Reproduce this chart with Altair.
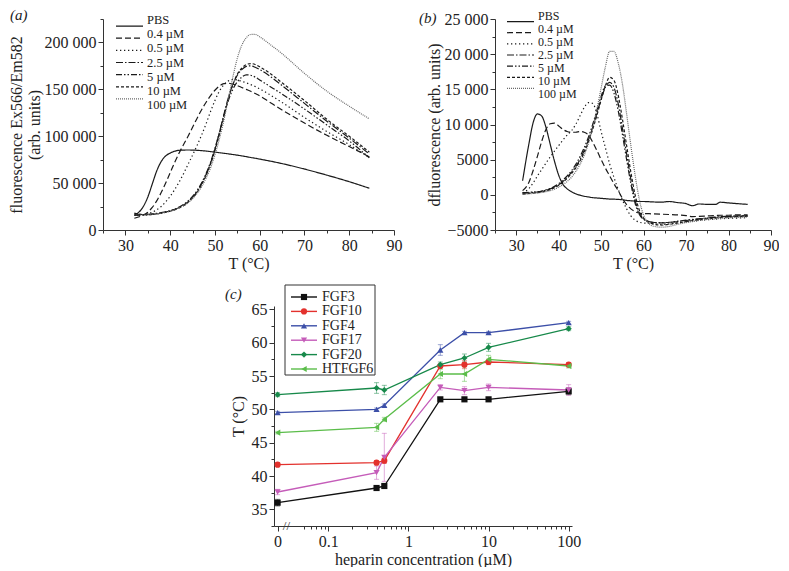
import altair as alt
import pandas as pd

SERIF = "Liberation Serif"
INK = "#222222"

# ---------------- panels (a) and (b): thermal shift curves ----------------
series_names = ["PBS", "0.4 µM", "0.5 µM", "2.5 µM", "5 µM", "10 µM", "100 µM"]

temp_a = [32, 34, 35, 36, 37, 38, 39, 40, 41, 42, 44, 46, 47, 48, 49, 50, 51, 52, 53,
          54, 55, 56, 57, 58, 59, 60, 62, 65, 70, 75, 80, 84.5]
fl_pbs = [15500, 25000, 35000, 49000, 63000, 73000, 79000, 82000, 84000, 85000, 85300, 85000,
          84600, 84200, 83600, 83000, 82400, 81800, 81200, 80500, 79800, 79000, 78200, 77300,
          76500, 75600, 73800, 70800, 65000, 58500, 51500, 44500]
fl_04 = [12500, 16000, 19000, 24000, 31000, 40000, 50000, 61000, 72000, 82000, 100000, 119000,
         128000, 136000, 143000, 149000, 153500, 156000, 156500, 155500, 154000, 152000, 150000,
         148000, 145500, 143000, 137000, 128000, 114000, 101000, 89000, 78000]
fl_05 = [16000, 16500, 17500, 19000, 21500, 25000, 30000, 36000, 43000, 51000, 70000, 90000,
         101000, 113000, 126000, 138000, 148000, 155000, 159000, 160500, 160000, 158500, 157000,
         155000, 153000, 150500, 145000, 136000, 120000, 105000, 91000, 77000]
fl_25 = [17000, 16500, 16800, 17200, 17800, 18500, 19500, 20500, 22000, 24000, 30000, 41000,
         49000, 59000, 71000, 86000, 104000, 123000, 141000, 155000, 165000, 171000, 174500,
         175000, 173500, 171000, 165000, 154000, 135000, 116000, 98000, 81000]
fl_5 = [15500, 15800, 16000, 16500, 17000, 18000, 19000, 20500, 22000, 24500, 31000, 42000,
        50000, 60000, 72000, 87000, 104000, 122000, 138000, 150000, 158000, 163000, 165500,
        165000, 163000, 160000, 154000, 145000, 129000, 112000, 95000, 77000]
fl_10 = [18000, 16500, 16500, 16800, 17300, 18000, 19000, 20000, 21500, 23500, 29500, 40000,
         48000, 58000, 70000, 85000, 102000, 121000, 140000, 155000, 166000, 172500, 176500,
         177500, 176500, 174000, 168000, 157000, 138000, 118000, 100000, 83000]
fl_100 = [16000, 16000, 16200, 16500, 17000, 17800, 18800, 20000, 21500, 23500, 29000, 39000,
          46000, 55000, 66000, 80000, 97000, 117000, 140000, 163000, 183000, 197000, 205000,
          208500, 208500, 206000, 199000, 188000, 167000, 148000, 132000, 118500]

temp_b = [31.5, 33, 34, 35, 36, 37, 38, 39, 40, 41, 42, 43, 44, 45, 46, 47, 48, 49, 50, 51,
          52, 53, 54, 55, 56, 57, 58, 59, 60, 62, 64, 66, 68, 70, 71.5, 73, 75, 77, 78, 80,
          82, 84.5]
df_pbs = [2000, 7300, 10300, 11500, 11200, 9600, 7200, 4800, 2800, 1500, 850, 450, 150, -50,
          -200, -300, -400, -450, -500, -550, -600, -620, -650, -700, -800, -850, -900, -950,
          -950, -1000, -1050, -950, -1100, -1250, -1550, -1300, -1350, -1350, -1050, -1150,
          -1250, -1350]
df_04 = [600, 1800, 3500, 5500, 7600, 9300, 10100, 10200, 9800, 9300, 9000, 8900, 8900, 9000,
         8900, 8500, 7500, 6300, 5000, 3800, 2700, 1600, 600, -500, -1400, -2000, -2400, -2600,
         -2650, -2700, -2750, -2800, -2850, -2950, -3100, -3050, -3000, -2950, -2900, -2900,
         -2850, -2850]
df_05 = [300, 900, 1700, 2700, 3600, 4500, 5400, 6200, 7000, 7800, 8500, 9100, 10000, 11200,
         12400, 13100, 13000, 11500, 9000, 6700, 4400, 2500, 800, -700, -2000, -3000, -3600,
         -3900, -4000, -4100, -4200, -4150, -4000, -3850, -3750, -3650, -3550, -3450, -3400,
         -3350, -3300, -3250]
df_25 = [200, 300, 350, 400, 500, 650, 850, 1100, 1450, 1900, 2500, 3200, 4000, 5000, 6300,
         7800, 9600, 11600, 13600, 15300, 16000, 15300, 13000, 9500, 5800, 2200, -800, -2600,
         -3400, -3900, -4000, -3950, -3800, -3650, -3550, -3450, -3300, -3150, -3100, -3050,
         -3000, -2950]
df_5 = [300, 350, 400, 450, 550, 700, 900, 1200, 1600, 2100, 2700, 3400, 4300, 5400, 6700,
        8200, 10000, 12000, 14000, 15500, 15600, 14500, 12000, 8600, 5000, 1600, -1200, -2800,
        -3500, -3900, -3950, -3900, -3750, -3600, -3500, -3400, -3300, -3200, -3150, -3100,
        -3050, -3000]
df_10 = [100, 200, 250, 300, 400, 550, 750, 1000, 1350, 1800, 2350, 3000, 3800, 4800, 6000,
         7500, 9300, 11300, 13500, 15500, 16700, 16300, 14200, 10800, 7000, 3200, 0, -2200,
         -3300, -4100, -4300, -4200, -4000, -3800, -3650, -3550, -3400, -3300, -3200, -3150,
         -3100, -3050]
df_100 = [100, 150, 200, 250, 350, 450, 600, 800, 1100, 1450, 1900, 2500, 3300, 4300, 5600,
          7300, 9500, 12200, 15200, 18200, 20400, 20400, 18800, 15800, 11500, 7000, 2800, -700,
          -2900, -4400, -4600, -4500, -4200, -3950, -3800, -3650, -3500, -3400, -3350, -3250,
          -3200, -3150]

# ---------------- panel (c): melting temperature vs heparin ----------------
fgf_names = ["FGF3", "FGF10", "FGF4", "FGF17", "FGF20", "HTFGF6"]
conc_labels = ["0", "0.4", "0.5", "2.5", "5", "10", "100"]
conc_pos = [0.0233, 0.4, 0.5, 2.5, 5, 10, 100]   # "0" drawn left of the axis break
tm_fgf3 = [36.0, 38.2, 38.5, 51.5, 51.5, 51.5, 52.7]
tm_fgf10 = [41.7, 42.0, 42.3, 56.5, 56.7, 57.1, 56.7]
tm_fgf4 = [49.5, 50.0, 50.6, 58.9, 61.5, 61.5, 63.0]
tm_fgf17 = [37.6, 40.5, 42.8, 53.3, 52.8, 53.3, 52.9]
tm_fgf20 = [52.2, 53.2, 52.9, 56.7, 57.7, 59.3, 62.1]
tm_htfgf6 = [46.5, 47.3, 48.5, 55.3, 55.3, 57.5, 56.5]
er_fgf3 = [0.5, 0.2, 0.2, 0.2, 0.2, 0.2, 0.5]
er_fgf10 = [0.3, 0.3, 0.4, 0.3, 0.6, 0.4, 0.3]
er_fgf4 = [0.2, 0.2, 0.2, 0.8, 0.2, 0.2, 0.2]
er_fgf17 = [0.4, 1.0, 3.6, 0.4, 0.6, 0.5, 0.8]
er_fgf20 = [0.3, 0.8, 0.7, 0.4, 0.6, 0.6, 0.3]
er_htfgf6 = [0.2, 0.6, 0.3, 0.7, 1.1, 0.6, 0.3]
fgf_colors = ["#111111", "#e3312d", "#3c4fa8", "#c55cb9", "#17894a", "#5bbd4a"]
fgf_shapes = ["square", "circle", "triangle-up", "triangle-down", "diamond", "triangle-left"]

# ---------------- build tables ----------------
rows = []
for name, vals in zip(series_names, [fl_pbs, fl_04, fl_05, fl_25, fl_5, fl_10, fl_100]):
    rows += [{"series": name, "T": t, "value": v} for t, v in zip(temp_a, vals)]
data_a = pd.DataFrame(rows)
rows = []
for name, vals in zip(series_names, [df_pbs, df_04, df_05, df_25, df_5, df_10, df_100]):
    rows += [{"series": name, "T": t, "value": v} for t, v in zip(temp_b, vals)]
data_b = pd.DataFrame(rows)
rows = []
for name, tm, er in zip(fgf_names,
                        [tm_fgf3, tm_fgf10, tm_fgf4, tm_fgf17, tm_fgf20, tm_htfgf6],
                        [er_fgf3, er_fgf10, er_fgf4, er_fgf17, er_fgf20, er_htfgf6]):
    rows += [{"protein": name, "conc": c, "label": l, "Tm": t, "err": e}
             for c, l, t, e in zip(conc_pos, conc_labels, tm, er)]
data_c = pd.DataFrame(rows)

# ---------------- shared styles ----------------
dash_range = [[1, 0], [6, 3], [1.3, 2.7], [7, 2, 1.5, 2], [6, 2, 1.5, 2, 1.5, 2], [3, 2], [1, 1]]
gray_range = ["#1a1a1a"] * 6 + ["#6a6a6a"]
width_range = [1.2] * 6 + [1.0]
color_s = alt.Color("series:N", scale=alt.Scale(domain=series_names, range=gray_range), legend=None)
dash_s = alt.StrokeDash("series:N", scale=alt.Scale(domain=series_names, range=dash_range), legend=None)
width_s = alt.StrokeWidth("series:N", scale=alt.Scale(domain=series_names, range=width_range), legend=None)

axis_style = dict(labelFont=SERIF, labelFontSize=16, titleFont=SERIF, titleFontSize=16,
                  titleFontWeight="normal", labelColor=INK, titleColor=INK, domainColor="#333",
                  tickColor="#333", grid=False, labelOverlap=False, labelFlush=False,
                  labelPadding=2)


def num_expr(step):
    return (f"datum.value % {step} == 0 ? (abs(datum.value) >= 10000 ? "
            "replace(format(datum.value, ','), ',', ' ') : format(datum.value, 'd')) : ''")


def t_axis():
    return alt.Axis(values=list(range(25, 91, 5)), labelExpr="datum.value % 10 == 0 ? datum.value + '' : ''",
                    tickSize={"condition": {"test": "datum.value % 10 == 0", "value": 5}, "value": 3},
                    title="T (°C)", titlePadding=2, **axis_style)


def curve_panel(data, ydom, ystep, ytitle, w, h, leg_x, leg_range, leg_font, tag, tag_xy):
    y_vals = list(range(ydom[0], ydom[1] + 1, ystep // 2))
    curves = alt.Chart(data).mark_line(interpolate="monotone").encode(
        x=alt.X("T:Q", scale=alt.Scale(domain=[25, 90], nice=False, zero=False), axis=t_axis()),
        y=alt.Y("value:Q", scale=alt.Scale(domain=ydom, nice=False, zero=False),
                axis=alt.Axis(values=y_vals, labelExpr=num_expr(ystep), title=ytitle,
                              tickSize={"condition": {"test": f"datum.value % {ystep} == 0", "value": 5},
                                        "value": 3},
                              titlePadding=2, titleLineHeight=18, **axis_style)),
        color=color_s, strokeDash=dash_s, strokeWidth=width_s,
    )
    leg_df = pd.DataFrame({"series": series_names})
    leg_y = alt.Y("series:N", scale=alt.Scale(domain=series_names, range=leg_range, padding=0), axis=None)
    leg_lines = alt.Chart(leg_df).mark_rule().encode(
        x=alt.value(leg_x), x2=alt.value(leg_x + 27), y=leg_y,
        color=color_s, strokeDash=dash_s, strokeWidth=width_s)
    leg_text = alt.Chart(leg_df).mark_text(align="left", baseline="middle", font=SERIF,
                                           fontSize=leg_font, color=INK).encode(
        x=alt.value(leg_x + 31), y=leg_y, text="series:N")
    label = alt.Chart(pd.DataFrame({"t": [tag]})).mark_text(
        font=SERIF, fontStyle="italic", fontSize=15, align="left", baseline="middle", color=INK
    ).encode(x=alt.value(tag_xy[0]), y=alt.value(tag_xy[1]), text="t:N")
    return alt.layer(curves, leg_lines, leg_text, label).resolve_scale(y="independent").properties(
        width=w, height=h)


panel_a = curve_panel(data_a, [0, 225000], 50000, ["fluorescence Ex566/Em582", "(arb. units)"],
                      291, 211, 13, [1, 86], 12.5, "(a)", (-93, -4))
panel_b = curve_panel(data_b, [-5000, 25000], 5000, "dfluorescence (arb. units)",
                      276, 211, 12, [-3, 75], 12, "(b)", (-76, -1))

# ---------------- panel (c) ----------------
WC, HC = 298, 220
minor_x = [0.05, 0.06, 0.07, 0.08, 0.09, 0.1, 0.2, 0.3, 0.4, 0.5, 0.6, 0.7, 0.8, 0.9, 1,
           2, 3, 4, 5, 6, 7, 8, 9, 10, 20, 30, 40, 50, 60, 70, 80, 90, 100]
major_test = ("datum.value < 0.03 || datum.value == 0.1 || datum.value == 1 || "
              "datum.value == 10 || datum.value == 100")
style_c = dict(axis_style, labelFontSize=16, titleFontSize=16)
xC = alt.X("conc:Q", scale=alt.Scale(type="log", domain=[0.021, 110], nice=False),
           axis=alt.Axis(values=[conc_pos[0]] + minor_x,
                         labelExpr=("datum.value < 0.03 ? '0' : datum.value == 0.1 ? '0.1' : "
                                    "datum.value == 1 ? '1' : datum.value == 10 ? '10' : "
                                    "datum.value == 100 ? '100' : ''"),
                         tickSize={"condition": {"test": major_test, "value": 5}, "value": 3},
                         title="heparin concentration (µM)", titlePadding=2, **style_c))
yC = alt.Y("Tm:Q", scale=alt.Scale(domain=[32.5, 65.5], nice=False, zero=False),
           axis=alt.Axis(values=[32.5 + 2.5 * i for i in range(14)],
                         labelExpr="datum.value % 5 == 0 ? datum.value + '' : ''",
                         tickSize={"condition": {"test": "datum.value % 5 == 0", "value": 5}, "value": 3},
                         title="T (°C)", titlePadding=5, **style_c))
color_c = alt.Color("protein:N", scale=alt.Scale(domain=fgf_names, range=fgf_colors), legend=None)
shape_c = alt.Shape("protein:N", scale=alt.Scale(domain=fgf_names, range=fgf_shapes), legend=None)

err_c = alt.Chart(data_c).mark_errorbar(ticks=True, size=5, thickness=1, opacity=0.5).encode(
    x=xC, y=yC, yError="err:Q", color=color_c)
line_c = alt.Chart(data_c).mark_line(strokeWidth=1.3).encode(x=xC, y=yC, color=color_c)
pts_c = alt.Chart(data_c).mark_point(filled=True, size=38, opacity=1).encode(
    x=xC, y=yC, color=color_c, shape=shape_c)
brk = alt.Chart(pd.DataFrame({"conc": [0.03], "t": ["//"]})).mark_text(
    font=SERIF, fontSize=13, color="#333", baseline="middle").encode(
    x=xC, y=alt.value(HC), text="t:N")

legc_df = pd.DataFrame({"protein": fgf_names})
legc_y = alt.Y("protein:N", scale=alt.Scale(domain=fgf_names, range=[-9, 63], padding=0), axis=None)
box_c = alt.Chart(pd.DataFrame({"a": [0]})).mark_rect(fill="white", stroke="#333", strokeWidth=1).encode(
    x=alt.value(11), x2=alt.value(101), y=alt.value(-21), y2=alt.value(69))
legc_line = alt.Chart(legc_df).mark_point(shape="stroke", size=676, filled=False, strokeWidth=1.4,
                                          opacity=1).encode(
    x=alt.value(30), y=legc_y, color=color_c)
legc_pt = alt.Chart(legc_df).mark_point(filled=True, size=38, opacity=1).encode(
    x=alt.value(30), y=legc_y, color=color_c, shape=shape_c)
legc_txt = alt.Chart(legc_df).mark_text(align="left", baseline="middle", font=SERIF,
                                        fontSize=14, color=INK).encode(
    x=alt.value(48), y=legc_y, text="protein:N")
lab_c = alt.Chart(pd.DataFrame({"t": ["(c)"]})).mark_text(
    font=SERIF, fontStyle="italic", fontSize=15, align="left", baseline="middle", color=INK
).encode(x=alt.value(-49), y=alt.value(-12), text="t:N")

panel_c = alt.layer(
    alt.layer(err_c, line_c, pts_c, brk),
    box_c, legc_line, legc_pt, legc_txt, lab_c
).resolve_scale(y="independent").properties(width=WC, height=HC)

SP_W = 121
spacer = alt.Chart(pd.DataFrame({"a": [0]})).mark_rule(color="white").encode(
    x=alt.value(0), x2=alt.value(SP_W), y=alt.value(0)).properties(width=SP_W, height=1)

top = alt.hconcat(panel_a, panel_b, spacing=17)
bottom = alt.hconcat(spacer, panel_c, spacing=0)
chart = (alt.vconcat(top, bottom, spacing=13)
         .resolve_scale(color="independent", shape="independent", strokeDash="independent",
                        strokeWidth="independent")
         .properties(padding=0)
         .configure_view(stroke=None))

chart.save("out.html", embed_options={"renderer": "svg", "actions": False})
